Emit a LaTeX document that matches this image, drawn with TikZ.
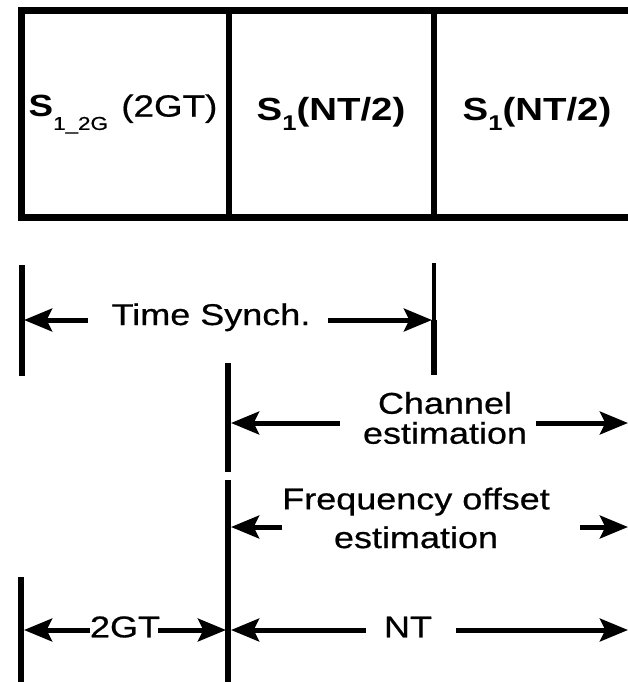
\documentclass[tikz,border=0pt]{standalone}
\usepackage{fontspec}
\setmainfont{Liberation Sans}[FakeStretch=1.2, UprightFeatures={FakeBold=0.6}]
\usetikzlibrary{arrows.meta}
\tikzset{
  boxline/.style={line width=5.25pt, line join=miter},
  divline/.style={line width=4.5pt},
  tickline/.style={line width=4.5pt},
  arr/.style={line width=3.75pt, -{Stealth[length=21pt,width=17pt,inset=4pt]}},
  lbl/.style={inner sep=0pt, font=\fontsize{22.5}{22.5}\selectfont},
  celltxt/.style={inner sep=0pt, font=\fontsize{23}{24}\selectfont},
}
\begin{document}
\begin{tikzpicture}[x=0.75pt,y=-0.75pt]
\useasboundingbox[fill=white] (0,0) rectangle (628,682);
% frame
\coordinate (tr) at (634,10.5);
\coordinate (tl) at (21,10.5);
\coordinate (bl) at (21,217);
\coordinate (br) at (634,217);
\draw[boxline] (tr) -- (tl) -- (bl) -- (br);
\coordinate (d1t) at (228.5,10.5); \coordinate (d1b) at (228.5,217);
\coordinate (d2t) at (434,10.5);   \coordinate (d2b) at (434,217);
\draw[divline] (d1t) -- (d1b);
\draw[divline] (d2t) -- (d2b);
% cell texts
\node[celltxt] (c1) at (123,114) {\textbf{S}\raisebox{-10pt}{\fontsize{14}{14}\selectfont 1\_2G}\hspace{10pt}(2GT)};
\node[celltxt] (c2) at (331,114) {\fontsize{24}{24}\selectfont\textbf{S\raisebox{-7pt}{\fontsize{16}{16}\selectfont 1}(NT/2)}};
\node[celltxt] (c3) at (537,114) {\fontsize{24}{24}\selectfont\textbf{S\raisebox{-7pt}{\fontsize{16}{16}\selectfont 1}(NT/2)}};
% Time synch
\coordinate (t1a) at (21.5,265); \coordinate (t1b) at (21.5,376);
\coordinate (t2a) at (434,263);  \coordinate (t2m) at (434,320); \coordinate (t2b) at (434,375);
\draw[tickline] (t1a) -- (t1b);
\draw[line width=3pt] (t2a) -- (t2m);
\draw[tickline] (t2m) -- (t2b);
\node[lbl, anchor=base] (ts) at (211,325) {Time Synch.};
\coordinate (tsA) at (88,320);  \coordinate (tsL) at (24,320);
\coordinate (tsB) at (328,320); \coordinate (tsR) at (432,320);
\draw[arr] (tsA) -- (tsL);
\draw[arr] (tsB) -- (tsR);
% middle vertical line
\coordinate (v1a) at (228,363); \coordinate (v1b) at (228,472);
\coordinate (v2a) at (228,480); \coordinate (v2b) at (228,684);
\draw[tickline] (v1a) -- (v1b);
\draw[tickline] (v2a) -- (v2b);
% channel estimation
\node[lbl, align=center, font=\fontsize{22.5}{22.5}\selectfont] (ce) at (445,418) {Channel\\estimation};
\coordinate (ceA) at (340,423); \coordinate (ceL) at (231,423);
\coordinate (ceB) at (536,423); \coordinate (ceR) at (628,423);
\draw[arr] (ceA) -- (ceL);
\draw[arr] (ceB) -- (ceR);
% frequency offset estimation
\node[lbl, align=center, font=\fontsize{22.5}{29}\selectfont] (fo) at (416,518) {Frequency offset\\estimation};
\coordinate (foA) at (282,527); \coordinate (foL) at (231,527);
\coordinate (foB) at (580,527); \coordinate (foR) at (628,527);
\draw[arr] (foA) -- (foL);
\draw[arr] (foB) -- (foR);
% 2GT / NT
\coordinate (g1a) at (21,577); \coordinate (g1b) at (21,684);
\draw[tickline] (g1a) -- (g1b);
\node[lbl] (g) at (125,627) {2GT};
\coordinate (gA) at (90,630);  \coordinate (gL) at (24,630);
\coordinate (gB) at (158,630); \coordinate (gR) at (226,630);
\draw[arr] (gA) -- (gL);
\draw[arr] (gB) -- (gR);
\node[lbl] (nt) at (408,627) {NT};
\coordinate (nA) at (366,630); \coordinate (nL) at (231,630);
\coordinate (nB) at (456,630); \coordinate (nR) at (628,630);
\draw[arr] (nA) -- (nL);
\draw[arr] (nB) -- (nR);
\end{tikzpicture}
\end{document}
